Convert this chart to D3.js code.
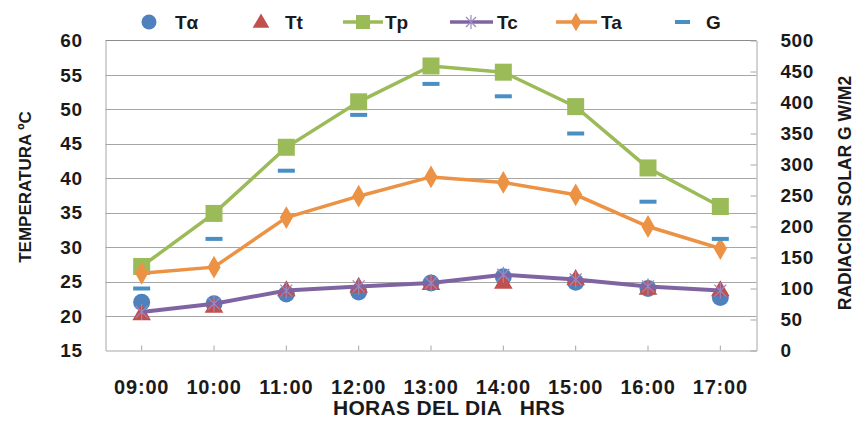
<!DOCTYPE html>
<html>
<head>
<meta charset="utf-8">
<script src="https://cdn.jsdelivr.net/npm/d3@7"></script>
<style>
  html, body { margin: 0; padding: 0; background: #fff; }
  svg { display: block; font-family: "Liberation Sans", Arial, sans-serif; }
</style>
</head>
<body>
<svg id="chart" width="856" height="421"></svg>
<script>
const hours = ["09:00","10:00","11:00","12:00","13:00","14:00","15:00","16:00","17:00"];
const tAlpha = [22.0, 21.8, 23.2, 23.5, 24.8, 25.7, 24.9, 24.0, 22.7];
const tT     = [20.3, 21.4, 23.8, 24.3, 24.7, 24.9, 25.4, 24.0, 23.8];
const tP     = [27.2, 34.9, 44.5, 51.1, 56.3, 55.4, 50.4, 41.5, 35.9];
const tC     = [20.6, 21.8, 23.7, 24.3, 24.8, 26.0, 25.3, 24.3, 23.7];
const tA     = [26.2, 27.1, 34.3, 37.4, 40.2, 39.4, 37.6, 33.0, 29.8];
const gRad   = [100, 180, 290, 380, 430, 410, 350, 240, 180];
const leftTicks  = [15, 20, 25, 30, 35, 40, 45, 50, 55, 60];
const rightTicks = [0, 50, 100, 150, 200, 250, 300, 350, 400, 450, 500];
const seriesNames = ["T\u03b1", "Tt", "Tp", "Tc", "Ta", "G"];

const colors = {blue:"#4F81BD", red:"#C0504D", green:"#9BBB59", purple:"#8064A2", orange:"#EB9244", g:"#4A8FC4"};

const svg = d3.select("#chart");
const L = 105.5, R = 756.5, T = 40.5, B = 350.5;

const x = d3.scaleBand().domain(hours).range([L, R]).padding(0);
const cx = h => x(h) + x.bandwidth() / 2;
const y = d3.scaleLinear().domain([15, 60]).range([B, T]);
const y2 = d3.scaleLinear().domain([0, 500]).range([B, T]);

// gridlines
svg.append("g").selectAll("line").data(leftTicks.filter(v => v > 15 && v < 60)).join("line")
  .attr("x1", L).attr("x2", R).attr("y1", d => Math.round(y(d)) + 0.5).attr("y2", d => Math.round(y(d)) + 0.5)
  .attr("stroke", "#A6A6A6").attr("stroke-width", 1);
// top border
svg.append("line").attr("x1", L).attr("x2", R).attr("y1", T).attr("y2", T).attr("stroke", "#8C8C8C").attr("stroke-width", 1.2);

// left axis
const gl = svg.append("g").attr("transform", `translate(${L},0)`)
  .call(d3.axisLeft(y).tickValues(leftTicks).tickSize(0).tickPadding(23).tickFormat(d3.format("d")));
gl.select(".domain").attr("stroke", "#A6A6A6");
gl.selectAll("text").attr("font-size", 19).attr("font-weight", "bold").attr("fill", "#1a1a1a").attr("letter-spacing", 0.5);

// right axis
const gr = svg.append("g").attr("transform", `translate(${R},0)`)
  .call(d3.axisRight(y2).tickValues(rightTicks).tickSizeInner(-6).tickSizeOuter(0).tickPadding(24).tickFormat(d3.format("d")));
gr.select(".domain").attr("stroke", "#A6A6A6");
gr.selectAll(".tick line").attr("stroke", "#A6A6A6");
gr.selectAll("text").attr("font-size", 19).attr("font-weight", "bold").attr("fill", "#1a1a1a").attr("letter-spacing", 0.5);

// bottom axis
const gb = svg.append("g").attr("transform", `translate(0,${B})`)
  .call(d3.axisBottom(x).tickSizeInner(-5).tickSizeOuter(0).tickPadding(29));
gb.select(".domain").attr("stroke", "#A6A6A6");
gb.selectAll(".tick line").attr("stroke", "#A6A6A6");
gb.selectAll("text").attr("font-size", 20).attr("font-weight", "bold").attr("fill", "#1a1a1a").attr("letter-spacing", 0.8);

// titles
svg.append("text").attr("x", 449).attr("y", 415).attr("text-anchor", "middle")
  .attr("font-size", 21).attr("font-weight", "bold").attr("fill", "#1a1a1a").style("white-space", "pre")
  .attr("letter-spacing", 0.3)
  .text("HORAS DEL DIA   HRS");
svg.append("text").attr("transform", "translate(25,187) rotate(-90)").attr("text-anchor", "middle")
  .attr("dominant-baseline", "central").attr("font-size", 17).attr("font-weight", "bold").attr("fill", "#1a1a1a")
  .text("TEMPERATURA \u00baC");
svg.append("text").attr("transform", "translate(845,193) rotate(-90)").attr("text-anchor", "middle")
  .attr("dominant-baseline", "central").attr("font-size", 17.5).attr("font-weight", "bold").attr("fill", "#1a1a1a")
  .text("RADIACION SOLAR G W/M2");

const line = d3.line().x((d, i) => cx(hours[i])).y(d => y(d));

// Tα circles
svg.append("g").selectAll("circle").data(tAlpha).join("circle")
  .attr("cx", (d, i) => cx(hours[i])).attr("cy", d => y(d)).attr("r", 8.5).attr("fill", colors.blue);
// Tt triangles
const tri = d3.symbol().type(d3.symbolTriangle).size(150);
svg.append("g").selectAll("path").data(tT).join("path")
  .attr("d", tri).attr("transform", (d, i) => `translate(${cx(hours[i])},${y(d) + 1})`).attr("fill", colors.red);
// Tp line + squares
svg.append("path").datum(tP).attr("d", line).attr("fill", "none").attr("stroke", colors.green).attr("stroke-width", 3.5);
svg.append("g").selectAll("rect").data(tP).join("rect")
  .attr("x", (d, i) => cx(hours[i]) - 8.5).attr("y", d => y(d) - 8.5).attr("width", 17).attr("height", 17).attr("fill", colors.green);
// Tc line + stars
svg.append("path").datum(tC).attr("d", line).attr("fill", "none").attr("stroke", colors.purple).attr("stroke-width", 4);
svg.append("g").selectAll("g").data(tC).join("g")
  .attr("transform", (d, i) => `translate(${cx(hours[i])},${y(d)})`)
  .each(function() {
    d3.select(this).append("path").attr("d", "M-6,-6L6,6M-6,6L6,-6M0,-8L0,8").attr("stroke", "#9C88C0").attr("stroke-width", 1.2).attr("fill", "none");
  });
// Ta line + diamonds
svg.append("path").datum(tA).attr("d", line).attr("fill", "none").attr("stroke", colors.orange).attr("stroke-width", 3.5);
const dia = d3.symbol().type(d3.symbolDiamond).size(150);
svg.append("g").selectAll("path").data(tA).join("path")
  .attr("d", dia).attr("transform", (d, i) => `translate(${cx(hours[i])},${y(d)})`).attr("fill", colors.orange);
// G dashes
svg.append("g").selectAll("rect").data(gRad).join("rect")
  .attr("x", (d, i) => cx(hours[i]) - 8.5).attr("y", d => y2(d) - 2).attr("width", 17).attr("height", 4).attr("fill", colors.g);

// legend
const legY = 22;
const lg = svg.append("g");
lg.append("circle").attr("cx", 149).attr("cy", legY).attr("r", 7.5).attr("fill", colors.blue);
lg.append("path").attr("d", d3.symbol().type(d3.symbolTriangle).size(120)).attr("transform", `translate(261,${legY + 1})`).attr("fill", colors.red);
lg.append("line").attr("x1", 343).attr("x2", 383).attr("y1", legY).attr("y2", legY).attr("stroke", colors.green).attr("stroke-width", 3.5);
lg.append("rect").attr("x", 356).attr("y", legY - 7).attr("width", 14).attr("height", 14).attr("fill", colors.green);
lg.append("line").attr("x1", 450).attr("x2", 493).attr("y1", legY).attr("y2", legY).attr("stroke", colors.purple).attr("stroke-width", 3.5);
lg.append("path").attr("d", "M-5,-5L5,5M-5,5L5,-5M0,-7L0,7").attr("transform", `translate(471,${legY})`).attr("stroke", "#9C88C0").attr("stroke-width", 1.2).attr("fill", "none");
lg.append("line").attr("x1", 556).attr("x2", 597).attr("y1", legY).attr("y2", legY).attr("stroke", colors.orange).attr("stroke-width", 3.5);
lg.append("path").attr("d", d3.symbol().type(d3.symbolDiamond).size(100)).attr("transform", `translate(576,${legY})`).attr("fill", colors.orange);
lg.append("rect").attr("x", 675).attr("y", legY - 2).attr("width", 15).attr("height", 4).attr("fill", colors.g);

const legTextX = [175, 285, 385, 497, 601, 706];
lg.selectAll("text").data(seriesNames).join("text")
  .attr("x", (d, i) => legTextX[i]).attr("y", legY).attr("dominant-baseline", "central")
  .attr("font-size", 19).attr("font-weight", "bold").attr("fill", "#1a1a1a").text(d => d);
</script>
</body>
</html>
